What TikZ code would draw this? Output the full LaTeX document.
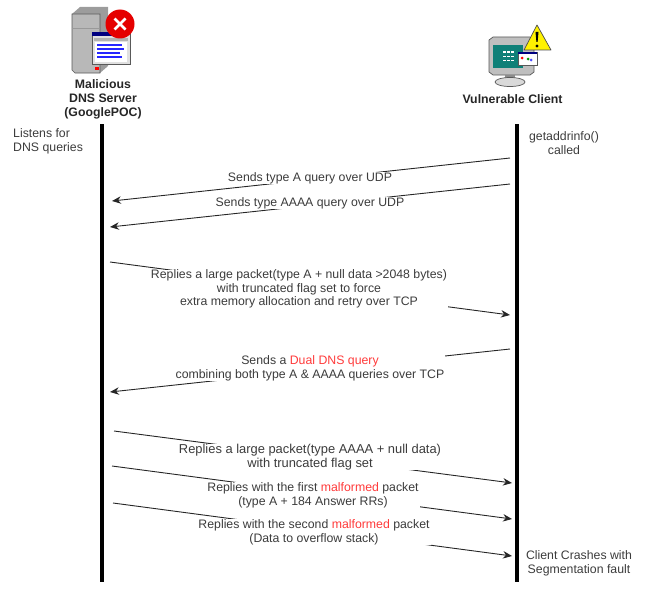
\documentclass[tikz,border=0pt]{standalone}
\usepackage{fontspec}
\setmainfont{Liberation Sans}
\usetikzlibrary{arrows.meta}
\definecolor{ColourText}{HTML}{3c3c3c}
\definecolor{ColourHl}{HTML}{ff3b3b}
\definecolor{ColourTower}{HTML}{b8b8b8}
\definecolor{ColourTeal}{HTML}{0f8078}
\tikzset{
  lifeline/.style={
    line width=4.5pt,
    black,
  },
  msg/.style={
    draw=black!85,
    line width=.9pt,
    -{Stealth[length=9pt,width=7.5pt]},
  },
  msg label/.style={
    fill=white,
    text=ColourText,
    align=center,
    inner xsep=1pt,
    inner ysep=0pt,
    font=\fontsize{12.3}{13.7}\selectfont,
  },
  side label/.style={
    text=ColourText,
    inner sep=0pt,
    font=\fontsize{12.3}{14}\selectfont,
  },
  actor label/.style={
    text=black!85,
    align=center,
    inner sep=0pt,
    font=\fontsize{12.3}{14}\selectfont\bfseries,
  },
  icon edge/.style={
    draw=black!65,
    line width=.7pt,
  },
}
\newcommand{\hl}[1]{\textcolor{ColourHl}{#1}}
\begin{document}
\begin{tikzpicture}[x=1pt,y=-1pt]
  \useasboundingbox (0,0) rectangle (652,602);
  % lifelines
  \coordinate (srvtop) at (102,124);
  \coordinate (srvbot) at (102,582);
  \coordinate (clitop) at (517,124);
  \coordinate (clibot) at (517,582);
  \draw[lifeline] (srvtop) -- (srvbot);
  \draw[lifeline] (clitop) -- (clibot);
  % server icon
  \fill[ColourTower!85!black] (72,14) -- (80,7) -- (108,7) -- (108,66) -- (100,73) -- cycle;
  \filldraw[icon edge,fill=ColourTower] (72,14) -- (100,14) -- (100,73) -- (75,73) -- (72,70) -- cycle;
  \draw[icon edge,black!40] (72,28) -- (100,28);
  \fill[red] (95,67) rectangle (99,70);
  \filldraw[icon edge,fill=black!12] (92,32) rectangle (130,64);
  \fill[blue!50!black] (92,32) rectangle (128,36);
  \fill[black!30] (94,38) rectangle (128,41);
  \fill[white] (95,42) rectangle (127,62);
  \foreach \y/\xe in {45/122,49/124,53/120,57/122}{
    \draw[blue!85!white,line width=1.2pt] (97,\y) -- (\xe,\y);
  }
  \fill[red!90!black] (120,24) circle (14.5);
  \draw[white,line width=2.6pt] (114.5,18.5) -- (125.5,29.5) (125.5,18.5) -- (114.5,29.5);
  % client icon
  \filldraw[icon edge,fill=black!25] (489,40) -- (493,37) -- (530,37) -- (534,40) -- (534,72) -- (530,75) -- (493,75) -- (489,72) -- cycle;
  \fill[ColourTeal] (493,45) rectangle (523,68);
  \foreach \y in {52,56,60}{
    \draw[white,line width=1pt,dash pattern=on 3pt off 1pt] (503,\y) -- (515,\y);
  }
  \filldraw[icon edge,fill=white] (518,52) rectangle (537,65);
  \fill[blue!50!black] (518,52) rectangle (537,54);
  \fill[red] (522,58) circle (1.5);
  \fill[green!60!black] (528,59) circle (1.5);
  \fill[blue!70] (531,60) circle (1.5);
  \fill[black!45] (505,75) rectangle (515,79);
  \filldraw[icon edge,fill=black!15] (510,82) ellipse (15 and 4.5);
  \filldraw[icon edge,draw=black!70,fill=yellow,line join=round] (537,25) -- (551,50) -- (524,50) -- cycle;
  \fill[black] (535.5,32) -- (538.5,32) -- (537.6,42) -- (536.4,42) -- cycle;
  \fill[black] (537,46) circle (1.6);
  % actors
  \node[actor label] (srv) at (103,99) {Malicious\\DNS Server\\(GooglePOC)};
  \node[actor label] (cli) at (512.5,99) {Vulnerable Client};
  \node[side label,align=left,anchor=west] (listens) at (13,141) {Listens for\\DNS queries};
  \node[side label,align=center] (getaddr) at (564,143) {getaddrinfo()\\called};
  \node[side label,align=center] (crash) at (579,563) {Client Crashes with\\Segmentation fault};
  % message ends
  \coordinate (a1) at (510,158);
  \coordinate (b1) at (112,201);
  \coordinate (a2) at (510,184);
  \coordinate (b2) at (110,227);
  \coordinate (a3) at (110,262);
  \coordinate (b3) at (510,315);
  \coordinate (a4) at (510,349);
  \coordinate (b4) at (110,392);
  \coordinate (a5) at (114,431);
  \coordinate (b5) at (512,483);
  \coordinate (a6) at (112,466);
  \coordinate (b6) at (512,519);
  \coordinate (a7) at (113,503);
  \coordinate (b7) at (512,556);
  \foreach \n in {1,...,7}{
    \draw[msg] (a\n) -- (b\n);
  }
  % message labels
  \node[msg label] (m1) at (310,178) {Sends type A query over UDP};
  \node[msg label] (m2) at (310,203) {Sends type AAAA query over UDP};
  \node[msg label] (m3) at (299,289) {Replies a large packet(type A + null data >2048 bytes)\\with truncated flag set to force\\extra memory allocation and retry over TCP};
  \node[msg label] (m4) at (310,368) {Sends a \hl{Dual DNS query}\\combining both type A \& AAAA queries over TCP};
  \node[msg label,font=\fontsize{12.9}{13.7}\selectfont] (m5) at (310,457) {Replies a large packet(type AAAA + null data)\\with truncated flag set};
  \node[msg label] (m6) at (313,495) {Replies with the first \hl{malformed} packet\\(type A + 184 Answer RRs)};
  \node[msg label] (m7) at (314,532) {Replies with the second \hl{malformed} packet\\(Data to overflow stack)};
\end{tikzpicture}
\end{document}
